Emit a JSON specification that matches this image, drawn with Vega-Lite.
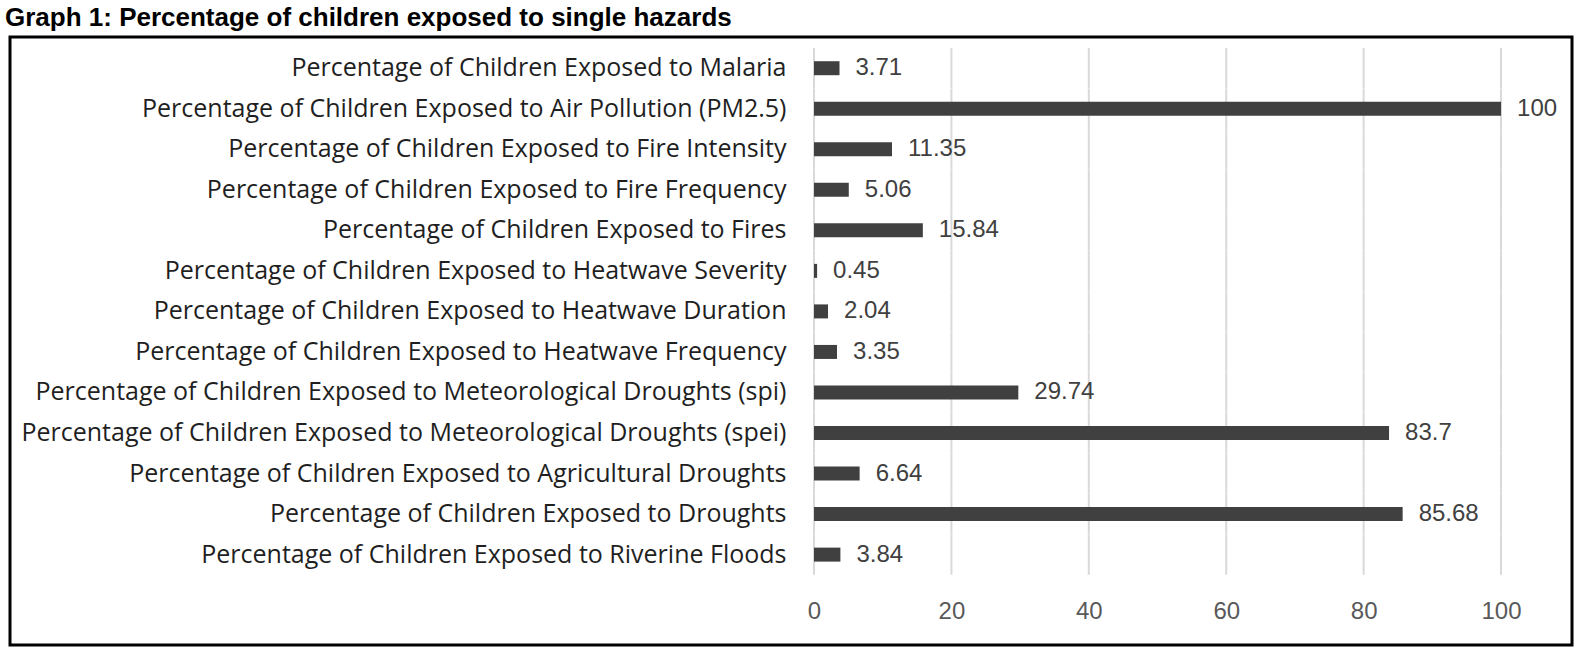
{
  "$schema": "https://vega.github.io/schema/vega-lite/v6.json",
  "width": 1562,
  "height": 608,
  "autosize": "none",
  "padding": {"left": 10, "top": 37, "right": 13, "bottom": 15},
  "background": "white",
  "title": {
    "text": "Graph 1: Percentage of children exposed to single hazards",
    "anchor": "start",
    "frame": "group",
    "dx": -5,
    "dy": 29,
    "offset": 14,
    "baseline": "alphabetic",
    "font": "Liberation Sans",
    "fontWeight": "bold",
    "fontSize": 26,
    "color": "#000000"
  },
  "config": {
    "view": {"stroke": "#000000", "strokeWidth": 3}
  },
  "data": {
    "values": [
      {"hazard": "Percentage of Children Exposed to Malaria", "value": 3.71},
      {"hazard": "Percentage of Children Exposed to Air Pollution (PM2.5)", "value": 100},
      {"hazard": "Percentage of Children Exposed to Fire Intensity", "value": 11.35},
      {"hazard": "Percentage of Children Exposed to Fire Frequency", "value": 5.06},
      {"hazard": "Percentage of Children Exposed to Fires", "value": 15.84},
      {"hazard": "Percentage of Children Exposed to Heatwave Severity", "value": 0.45},
      {"hazard": "Percentage of Children Exposed to Heatwave Duration", "value": 2.04},
      {"hazard": "Percentage of Children Exposed to Heatwave Frequency", "value": 3.35},
      {"hazard": "Percentage of Children Exposed to Meteorological Droughts (spi)", "value": 29.74},
      {"hazard": "Percentage of Children Exposed to Meteorological Droughts (spei)", "value": 83.7},
      {"hazard": "Percentage of Children Exposed to Agricultural Droughts", "value": 6.64},
      {"hazard": "Percentage of Children Exposed to Droughts", "value": 85.68},
      {"hazard": "Percentage of Children Exposed to Riverine Floods", "value": 3.84}
    ]
  },
  "encoding": {
    "y": {
      "field": "hazard",
      "type": "nominal",
      "sort": null,
      "scale": {"paddingInner": 0, "paddingOuter": 1.0375, "align": 0.135},
      "axis": {
        "orient": "left",
        "offset": -804,
        "domain": false,
        "ticks": false,
        "tickSize": 0,
        "labelPadding": 28,
        "labelFont": "Open Sans",
        "labelFontSize": 25,
        "labelColor": "#1f1f1f",
        "labelLimit": 0,
        "title": null,
        "grid": false
      }
    }
  },
  "layer": [
    {"mark": {"type": "tick", "size": 40.33, "thickness": 2, "color": "#d9d9d9", "opacity": 1}, "encoding": {"x": {"datum": 0, "type": "quantitative"}}},
    {"mark": {"type": "tick", "size": 40.33, "thickness": 2, "color": "#d9d9d9", "opacity": 1}, "encoding": {"x": {"datum": 20, "type": "quantitative"}}},
    {"mark": {"type": "tick", "size": 40.33, "thickness": 2, "color": "#d9d9d9", "opacity": 1}, "encoding": {"x": {"datum": 40, "type": "quantitative"}}},
    {"mark": {"type": "tick", "size": 40.33, "thickness": 2, "color": "#d9d9d9", "opacity": 1}, "encoding": {"x": {"datum": 60, "type": "quantitative"}}},
    {"mark": {"type": "tick", "size": 40.33, "thickness": 2, "color": "#d9d9d9", "opacity": 1}, "encoding": {"x": {"datum": 80, "type": "quantitative"}}},
    {"mark": {"type": "tick", "size": 40.33, "thickness": 2, "color": "#d9d9d9", "opacity": 1}, "encoding": {"x": {"datum": 100, "type": "quantitative"}}},
    {
      "mark": {"type": "bar", "size": 14, "color": "#404040"},
      "encoding": {
        "x": {
          "field": "value",
          "type": "quantitative",
          "scale": {"domain": [-117.03, 110.33], "nice": false, "zero": false},
          "axis": {
            "orient": "bottom",
            "offset": -73,
            "values": [0, 20, 40, 60, 80, 100],
            "format": "d",
            "domain": false,
            "ticks": false,
            "tickSize": 0,
            "grid": false,
            "labelPadding": 27,
            "labelFont": "Liberation Sans",
            "labelFontSize": 24,
            "labelColor": "#595959",
            "title": null
          }
        },
        "x2": {"datum": 0}
      }
    },
    {
      "mark": {"type": "text", "align": "left", "baseline": "middle", "dx": 16, "font": "Liberation Sans", "fontSize": 24, "color": "#404040"},
      "encoding": {
        "x": {"field": "value", "type": "quantitative"},
        "text": {"field": "value", "type": "quantitative", "format": "~g"}
      }
    }
  ]
}
